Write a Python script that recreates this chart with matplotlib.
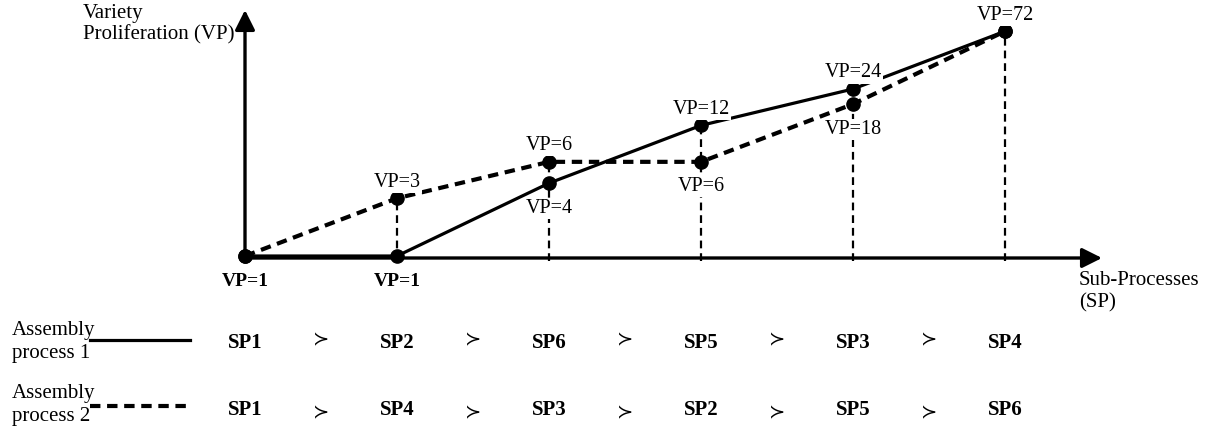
import matplotlib
matplotlib.use("Agg")
import matplotlib.pyplot as plt
from matplotlib.lines import Line2D
from matplotlib.transforms import blended_transform_factory

plt.rcParams['font.family'] = ['Liberation Serif', 'DejaVu Serif', 'DejaVu Sans',
                               'Noto Sans CJK SC']

# ---------------- data ----------------
steps = [0, 1, 2, 3, 4, 5]
vp_process1 = [1, 1, 4, 12, 24, 72]
vp_process2 = [1, 3, 6, 6, 18, 72]
place1 = ['below', 'below', 'below', 'above', 'above', 'above']
place2 = ['none', 'above', 'above', 'below', 'below', 'none']
seq_process1 = ['SP1', 'SP2', 'SP6', 'SP5', 'SP3', 'SP4']
seq_process2 = ['SP1', 'SP4', 'SP3', 'SP2', 'SP5', 'SP6']
legend_names = ['Assembly\nprocess 1', 'Assembly\nprocess 2']
y_title = 'Variety\nProliferation (VP)'
x_title = 'Sub-Processes\n(SP)'

W, H = 1218, 432
fig = plt.figure(figsize=(W / 100, H / 100), dpi=100)
fig.patch.set_facecolor('white')

ax = fig.add_axes([245 / W, (H - 258) / H, (1102 - 245) / W, (258 - 10) / H])
ax.set_xlim(0, (1102 - 245) / 152)
ax.set_yscale('log')
ax.set_ylim(10 ** (-2 / 121), 10 ** (246 / 121))
ax.axis('off')

# axes with arrows
arrow_kw = dict(arrowstyle='-|>,head_length=1.0,head_width=0.5', lw=2.4,
                color='black', mutation_scale=12, shrinkA=0, shrinkB=0)
ax.annotate('', xy=(1, 0), xytext=(0, 0), xycoords='axes fraction',
            arrowprops=arrow_kw, annotation_clip=False)
ax.annotate('', xy=(0, 1), xytext=(0, 0), xycoords='axes fraction',
            arrowprops=arrow_kw, annotation_clip=False)

# vertical dotted guides
ybot = ax.get_ylim()[0]
for x, a, b in zip(steps, vp_process1, vp_process2):
    top = max(a, b)
    if top > 1:
        ax.plot([x, x], [ybot * 0.95, top], color='black', lw=1.6,
                dashes=(3.5, 2.2), clip_on=False, zorder=2)

# process lines
ax.plot(steps, vp_process1, color='black', lw=2.3, marker='o', ms=9.5,
        clip_on=False, zorder=4)
ax.plot(steps, vp_process2, color='black', lw=3.0, dashes=(2.5, 1.6),
        marker='o', ms=9.5, clip_on=False, zorder=4)

# point labels
def put(x, v, where, bold=False):
    dy = 16 if where == 'above' else -25
    ax.annotate(f'VP={v}', xy=(x, v), xytext=(0, dy), textcoords='offset pixels',
                ha='center', va='center', fontsize=14 if bold else 14.5,
                fontweight='bold' if bold else 'normal',
                bbox=dict(boxstyle='square,pad=0.05', fc='white', ec='none'),
                zorder=5, annotation_clip=False)

for x, v, p in zip(steps, vp_process1, place1):
    put(x, v, p, bold=(v == 1))
for x, v, p in zip(steps, vp_process2, place2):
    if p != 'none':
        put(x, v, p)

# axis titles
fig.text(83 / W, 1 - 4 / H, y_title, ha='left', va='top', fontsize=15,
         linespacing=1.15)
fig.text(1079 / W, 1 - 271 / H, x_title, ha='left', va='top', fontsize=15,
         linespacing=1.2)

# sequence rows
tr = blended_transform_factory(ax.transData, fig.transFigure)
row_y = [343, 410]
succ_y = [340, 413]
for seq, ry, sy in zip([seq_process1, seq_process2], row_y, succ_y):
    for i, (x, name) in enumerate(zip(steps, seq)):
        fig.text(x, 1 - ry / H, name, transform=tr, ha='center', va='center',
                 fontsize=15, fontweight='bold')
        if i < len(seq) - 1:
            fig.text(x + 0.5, 1 - sy / H, '\u227B', transform=tr, ha='center',
                     va='center', fontsize=14,
                     family=['DejaVu Sans', 'DejaVu Serif', 'Noto Sans CJK SC'])

# legend names and swatches
name_y = [342, 405]
for name, ny in zip(legend_names, name_y):
    fig.text(12 / W, 1 - ny / H, name, ha='left', va='center', fontsize=15,
             linespacing=1.3)
fig.add_artist(Line2D([90 / W, 190 / W], [1 - 340 / H, 1 - 340 / H],
                      transform=fig.transFigure, color='black', lw=2.3))
fig.add_artist(Line2D([90 / W, 190 / W], [1 - 406 / H, 1 - 406 / H],
                      transform=fig.transFigure, color='black', lw=3.0,
                      dashes=(2.5, 1.6)))

fig.savefig('out.png', dpi=100, facecolor='white')
